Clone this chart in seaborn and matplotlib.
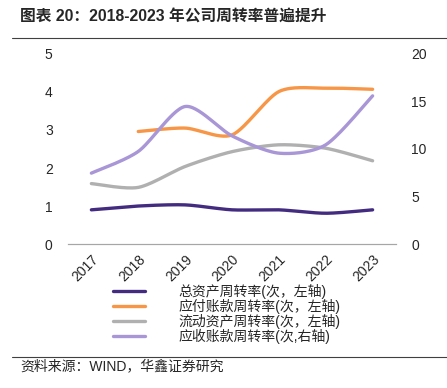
#!/usr/bin/env python3

import numpy as np
import pandas as pd
import seaborn as sns
import matplotlib.pyplot as plt
from matplotlib.lines import Line2D

years = ["2017", "2018", "2019", "2020", "2021", "2022", "2023"]
total_asset = [0.90, 1.00, 1.03, 0.90, 0.90, 0.81, 0.90]
payable = [np.nan, 2.96, 3.05, 2.87, 4.01, 4.10, 4.07]
current_asset = [1.59, 1.49, 2.04, 2.43, 2.61, 2.52, 2.19]
receivable = [7.46, 9.74, 14.47, 11.38, 9.56, 10.44, 15.59]  # right axis

labels = ["总资产周转率(次，左轴)", "应付账款周转率(次，左轴)",
          "流动资产周转率(次，左轴)", "应收账款周转率(次,右轴)"]
colors = ["#432C80", "#F79646", "#B0B0B0", "#A896D6"]


def smooth(vals, n=30):
    # catmull-rom curve through the points, like excel's smoothed line
    pts = [(i, v) for i, v in enumerate(vals) if not np.isnan(v)]
    x = np.array([p[0] for p in pts], float)
    y = np.array([p[1] for p in pts], float)
    xs, ys = [], []
    for i in range(len(x) - 1):
        i0, i3 = max(i - 1, 0), min(i + 2, len(x) - 1)
        t = np.linspace(0, 1, n)
        for arr, out in ((x, xs), (y, ys)):
            p0, p1, p2, p3 = arr[i0], arr[i], arr[i + 1], arr[i3]
            m1 = (p2 - p0) / 2 * 0.8
            m2 = (p3 - p1) / 2 * 0.8
            h00 = 2 * t**3 - 3 * t**2 + 1
            h10 = t**3 - 2 * t**2 + t
            h01 = -2 * t**3 + 3 * t**2
            h11 = t**3 - t**2
            out.extend(h00 * p1 + h10 * m1 + h01 * p2 + h11 * m2)
    return pd.DataFrame({"x": xs, "y": ys})


def main():
    sns.set_style("white")
    plt.rcParams["font.family"] = ["Liberation Sans", "Noto Sans CJK SC"]

    fig = plt.figure(figsize=(4.47, 3.88), dpi=100)
    ax = fig.add_axes([0.152, 0.371, 0.734, 0.490])
    ax2 = ax.twinx()

    for vals, c in zip([total_asset, payable, current_asset], colors[:3]):
        sns.lineplot(data=smooth(vals), x="x", y="y", sort=False, ax=ax,
                     color=c, linewidth=2.4)
    sns.lineplot(data=smooth(receivable), x="x", y="y", sort=False, ax=ax2,
                 color=colors[3], linewidth=2.4)

    ax.set_xlim(-0.5, len(years) - 0.5)
    ax.set_ylim(0, 5)
    ax2.set_ylim(0, 20)
    ax.set_yticks(range(6))
    ax2.set_yticks(range(0, 21, 5))
    ax.set_xticks(range(len(years)))
    ax.set_xticklabels(years, rotation=45, ha="right", rotation_mode="anchor",
                       fontsize=10)
    ax.set_xticks(np.arange(-0.5, len(years), 1), minor=True)
    ax.tick_params(axis="x", which="major", length=0, pad=6)
    ax.tick_params(axis="x", which="minor", length=3, color="#A6A6A6",
                   width=0.8, direction="out")
    ax.tick_params(axis="y", length=0, labelsize=10, pad=11)
    ax2.tick_params(axis="y", length=0, labelsize=10, pad=11)
    ax.set_xlabel("")
    ax.set_ylabel("")
    ax2.set_ylabel("")
    for a in (ax, ax2):
        for s in ("top", "left", "right"):
            a.spines[s].set_visible(False)
        a.spines["bottom"].set_color("#A6A6A6")
        a.spines["bottom"].set_linewidth(0.8)

    handles = [Line2D([], [], color=c, linewidth=2.4) for c in colors]
    fig.legend(handles, labels, loc="upper left", bbox_to_anchor=(0.253, 0.268),
               frameon=False, fontsize=10, handlelength=2.3, handletextpad=2.4,
               labelspacing=0.0, borderaxespad=0, borderpad=0)

    fig.text(0.045, 0.955, "图表 20：2018-2023 年公司周转率普遍提升",
             fontsize=11.3, fontweight="bold", va="center")
    fig.add_artist(Line2D([0.027, 1.0], [0.903, 0.903], color="#404040",
                          linewidth=0.8))
    fig.add_artist(Line2D([0.027, 1.0], [0.08, 0.08], color="#404040",
                          linewidth=0.8))
    fig.text(0.045, 0.057, "资料来源：WIND，华鑫证券研究", fontsize=10,
             va="center")

    fig.savefig("out.png", dpi=100)


if __name__ == '__main__':
    main()
